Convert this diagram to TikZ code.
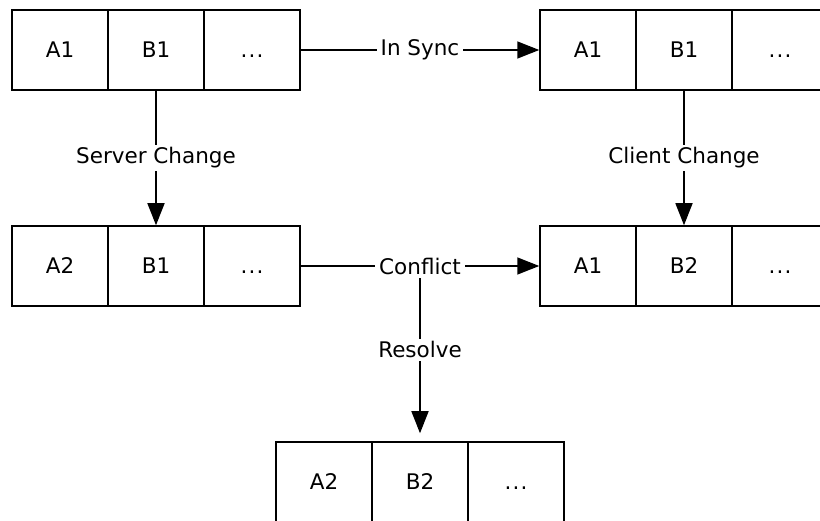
\documentclass[tikz,border=0pt]{standalone}
\usepackage{fontspec}
\setmainfont{DejaVu Sans}
\usetikzlibrary{arrows.meta}
\newcommand{\celldots}{\vphantom{A1}.\kern1.2pt.\kern1.2pt.}
\begin{document}
\begin{tikzpicture}[x=1pt,y=-1pt,
  cell/.style={draw, line width=1.5pt, minimum width=96pt, minimum height=80pt, inner sep=0pt, font=\fontsize{21.5}{25}\selectfont},
  lbl/.style={fill=white, inner xsep=4pt, inner ysep=3pt, font=\fontsize{21.5}{25}\selectfont},
  conn/.style={line width=1.5pt, -{Triangle[length=22pt,width=17pt]}}]
\useasboundingbox (0,0) rectangle (820,521);
% top left
\node[cell] (tla) at (60,50) {A1};
\node[cell] (tlb) at (156,50) {B1};
\node[cell] (tlc) at (252,50) {\celldots};
% top right
\node[cell] (tra) at (588,50) {A1};
\node[cell] (trb) at (684,50) {B1};
\node[cell] (trc) at (780,50) {\celldots};
% middle left
\node[cell] (mla) at (60,266) {A2};
\node[cell] (mlb) at (156,266) {B1};
\node[cell] (mlc) at (252,266) {\celldots};
% middle right
\node[cell] (mra) at (588,266) {A1};
\node[cell] (mrb) at (684,266) {B2};
\node[cell] (mrc) at (780,266) {\celldots};
% bottom
\node[cell] (ba) at (324,482) {A2};
\node[cell] (bb) at (420,482) {B2};
\node[cell] (bc) at (516,482) {\celldots};
% connectors
\draw[conn] (tlc.east) -- node[lbl] {In Sync} (tra.west);
\draw[conn] (tlb.south) -- node[lbl] {Server Change} (mlb.north);
\draw[conn] (trb.south) -- node[lbl] {Client Change} (mrb.north);
\draw[conn] (mlc.east) -- node[lbl] (conflict) {Conflict} (mra.west);
\draw[conn, shorten >=8pt] (conflict) -- node[lbl, pos=0.44] {Resolve} (bb.north);
\end{tikzpicture}
\end{document}
